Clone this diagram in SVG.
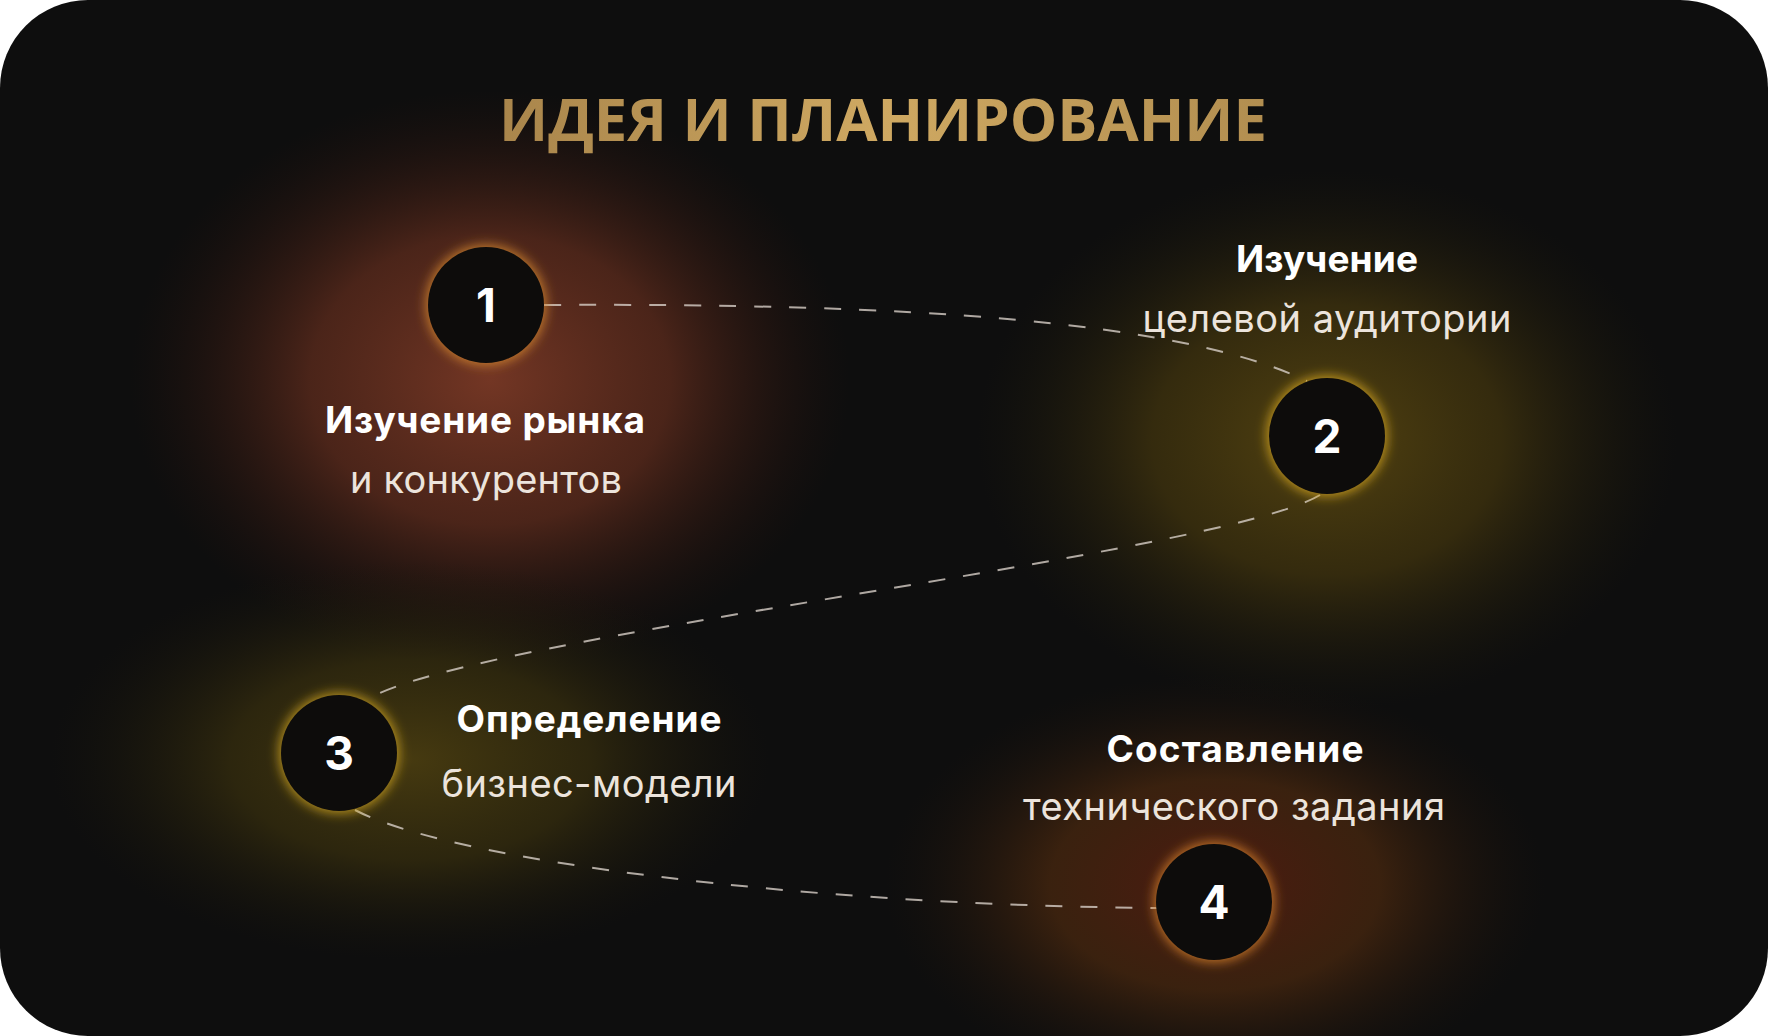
<svg xmlns="http://www.w3.org/2000/svg" width="1768" height="1036" viewBox="0 0 1768 1036">
  <defs>
    <style>
      .title { font-family: "Open Sans", "Noto Sans", sans-serif; font-weight: 700; font-size: 59px; }
      .bold { font-family: Inter, "Noto Sans", sans-serif; font-weight: 700; font-size: 37px; fill: #ffffff; }
      .reg { font-family: Inter, "Noto Sans", sans-serif; font-weight: 400; font-size: 38px; fill: #ece4dc; }
      .num { font-family: Inter, "Noto Sans", sans-serif; font-weight: 700; font-size: 46px; fill: #ffffff; }
      .disc { fill: #0d0c0b; }
      .conn { fill: none; stroke: #d8d0c8; stroke-opacity: 0.8; stroke-width: 2; stroke-dasharray: 17 18; }
    </style>
    <linearGradient id="gold" x1="0" y1="0" x2="1" y2="0">
      <stop offset="0" stop-color="#a9854b"/>
      <stop offset="0.5" stop-color="#cfa962"/>
      <stop offset="1" stop-color="#b28e50"/>
    </linearGradient>
    <radialGradient id="g1">
      <stop offset="0" stop-color="#733624" stop-opacity="1"/>
      <stop offset="0.5" stop-color="#5a2a1c" stop-opacity="0.8"/>
      <stop offset="1" stop-color="#2a140e" stop-opacity="0"/>
    </radialGradient>
    <radialGradient id="g2">
      <stop offset="0" stop-color="#524210" stop-opacity="1"/>
      <stop offset="0.5" stop-color="#3e320e" stop-opacity="0.8"/>
      <stop offset="1" stop-color="#1e1a0c" stop-opacity="0"/>
    </radialGradient>
    <radialGradient id="g3">
      <stop offset="0" stop-color="#463a10" stop-opacity="1"/>
      <stop offset="0.5" stop-color="#342c0e" stop-opacity="0.8"/>
      <stop offset="1" stop-color="#1a160c" stop-opacity="0"/>
    </radialGradient>
    <radialGradient id="g4">
      <stop offset="0" stop-color="#4c1a10" stop-opacity="1"/>
      <stop offset="0.5" stop-color="#45260f" stop-opacity="0.8"/>
      <stop offset="1" stop-color="#1e140c" stop-opacity="0"/>
    </radialGradient>
    <filter id="ring" x="-50%" y="-50%" width="200%" height="200%">
      <feGaussianBlur stdDeviation="6"/>
    </filter>
  </defs>

  <rect x="0" y="0" width="1768" height="1036" fill="#ffffff"/>
  <rect x="0" y="0" width="1768" height="1036" rx="88" ry="88" fill="#0e0e0e"/>

  <g id="glows">
    <ellipse cx="490" cy="380" rx="360" ry="290" fill="url(#g1)"/>
    <ellipse cx="1327" cy="440" rx="350" ry="270" fill="url(#g2)"/>
    <ellipse cx="410" cy="760" rx="360" ry="200" fill="url(#g3)"/>
    <ellipse cx="1215" cy="885" rx="330" ry="210" fill="url(#g4)"/>
  </g>

  <text id="title" class="title" x="883" y="141" text-anchor="middle" fill="url(#gold)" textLength="768" lengthAdjust="spacingAndGlyphs">ИДЕЯ И ПЛАНИРОВАНИЕ</text>

  <g id="connectors">
    <path class="conn" d="M 544 305 C 900 303, 1180 320, 1307 381"/>
    <path class="conn" d="M 1320 495 C 1220 555, 480 635, 370 698"/>
    <path class="conn" d="M 355 810 C 450 860, 800 905, 1157 908"/>
  </g>

  <g id="node1">
    <circle cx="486" cy="305" r="60" fill="#d98a30" fill-opacity="0.85" filter="url(#ring)"/>
    <circle class="disc" cx="486" cy="305" r="58"/>
    <text class="num" x="486" y="322" text-anchor="middle">1</text>
    <text class="bold" x="485" y="433" text-anchor="middle" textLength="320" lengthAdjust="spacing">Изучение рынка</text>
    <text class="reg" x="486" y="493" text-anchor="middle" textLength="272" lengthAdjust="spacing">и конкурентов</text>
  </g>

  <g id="node2">
    <circle cx="1327" cy="436" r="60" fill="#d8a822" fill-opacity="0.85" filter="url(#ring)"/>
    <circle class="disc" cx="1327" cy="436" r="58"/>
    <text class="num" x="1327" y="453" text-anchor="middle">2</text>
    <text class="bold" x="1327" y="272" text-anchor="middle" textLength="182" lengthAdjust="spacing">Изучение</text>
    <text class="reg" x="1327" y="332" text-anchor="middle" textLength="369" lengthAdjust="spacing">целевой аудитории</text>
  </g>

  <g id="node3">
    <circle cx="339" cy="753" r="60" fill="#d0a422" fill-opacity="0.85" filter="url(#ring)"/>
    <circle class="disc" cx="339" cy="753" r="58"/>
    <text class="num" x="339" y="770" text-anchor="middle">3</text>
    <text class="bold" x="589" y="732" text-anchor="middle" textLength="265" lengthAdjust="spacing">Определение</text>
    <text class="reg" x="589" y="797" text-anchor="middle" textLength="295" lengthAdjust="spacing">бизнес-модели</text>
  </g>

  <g id="node4">
    <circle cx="1214" cy="902" r="60" fill="#d9822a" fill-opacity="0.85" filter="url(#ring)"/>
    <circle class="disc" cx="1214" cy="902" r="58"/>
    <text class="num" x="1214" y="919" text-anchor="middle">4</text>
    <text class="bold" x="1235" y="762" text-anchor="middle" textLength="257" lengthAdjust="spacing">Составление</text>
    <text class="reg" x="1234" y="820" text-anchor="middle" textLength="422" lengthAdjust="spacing">технического задания</text>
  </g>
</svg>
